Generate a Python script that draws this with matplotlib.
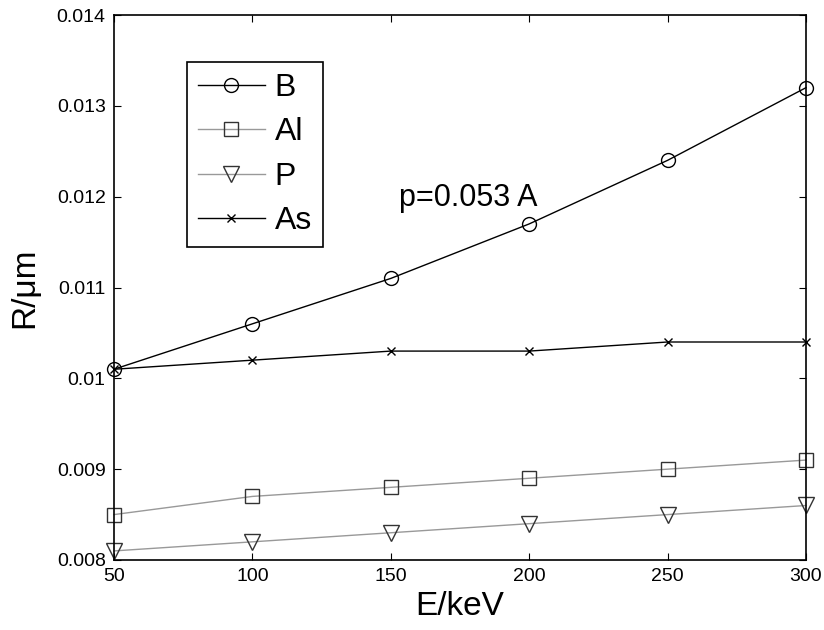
import matplotlib
matplotlib.use('Agg')
import matplotlib.pyplot as plt

plt.rcParams['font.family'] = ['Liberation Sans', 'DejaVu Sans']

E = [50, 100, 150, 200, 250, 300]
R_B = [0.0101, 0.0106, 0.0111, 0.0117, 0.0124, 0.0132]
R_Al = [0.0085, 0.0087, 0.0088, 0.0089, 0.0090, 0.0091]
R_P = [0.0081, 0.0082, 0.0083, 0.0084, 0.0085, 0.0086]
R_As = [0.0101, 0.0102, 0.0103, 0.0103, 0.0104, 0.0104]

fig = plt.figure(figsize=(8.24, 6.3), dpi=100)
ax = fig.add_axes([114/824, 70/630, 692/824, 545/630])

ax.plot(E, R_B, color='black', lw=1, marker='o', ms=10, mfc='none', mec='black', label='B', clip_on=False)
ax.plot(E, R_Al, color='#999999', lw=1, marker='s', ms=10, mfc='none', mec='#333333', label='Al', clip_on=False)
ax.plot(E, R_P, color='#999999', lw=1, marker='v', ms=11, mfc='none', mec='#333333', label='P', clip_on=False)
ax.plot(E, R_As, color='black', lw=1, marker='x', ms=6, label='As', clip_on=False)

ax.set_xlim(50, 300)
ax.set_ylim(0.008, 0.014)
ax.set_xticks(E)
ax.set_yticks([0.008, 0.009, 0.01, 0.011, 0.012, 0.013, 0.014])
ax.set_yticklabels(['0.008', '0.009', '0.01', '0.011', '0.012', '0.013', '0.014'])
ax.tick_params(direction='in', top=True, right=True, labelsize=14, length=5, pad=6)
for s in ax.spines.values():
    s.set_linewidth(1.2)

ax.set_xlabel('E/keV', fontsize=24, labelpad=4)
ax.set_ylabel('R/\u03bcm', fontsize=24, labelpad=12)

ax.text(178, 0.011985, 'p=0.053 A', fontsize=22, ha='center', va='center')

leg = ax.legend(loc='upper left', bbox_to_anchor=(0.105, 0.914), fontsize=23,
                fancybox=False, edgecolor='black', framealpha=1, borderaxespad=0,
                handlelength=2.1, handletextpad=0.3, labelspacing=0.45, borderpad=0.35)
leg.get_frame().set_linewidth(1.2)

fig.savefig('out.png', dpi=100)
